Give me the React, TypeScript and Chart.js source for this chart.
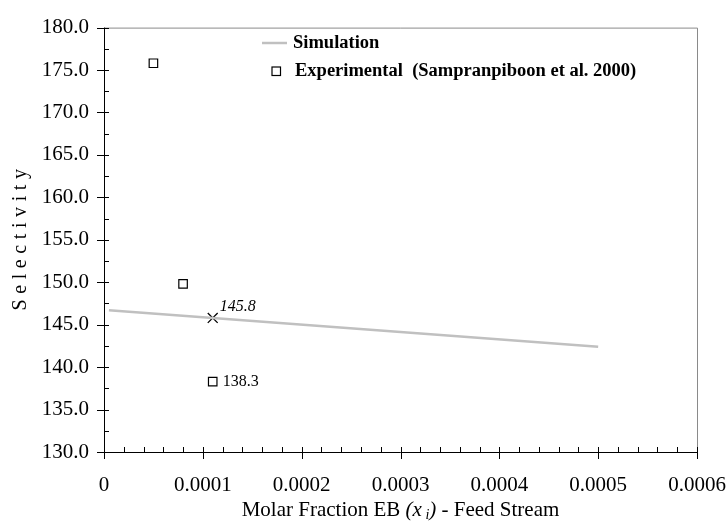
import React, { useEffect, useRef } from "react";
import { Chart, registerables } from "chart.js";

Chart.register(...registerables);

const simX = [0.000005, 0.0005];
const simY = [146.7, 142.4];
const expX = [0.00005, 0.00008, 0.00011];
const expY = [175.8, 149.8, 138.3];
const markX = [0.00011];
const markY = [145.8];
const xTicks = [0, 0.0001, 0.0002, 0.0003, 0.0004, 0.0005, 0.0006];
const yTicks = [130, 135, 140, 145, 150, 155, 160, 165, 170, 175, 180];
const seriesNames = ["Simulation", "Experimental  (Sampranpiboon et al. 2000)"];
const yTitle = "Selectivity";
const xTitleParts = [
  { t: "Molar Fraction EB ", style: "normal", sub: false },
  { t: "(x", style: "italic", sub: false },
  { t: " i", style: "italic", sub: true },
  { t: ")", style: "italic", sub: false },
  { t: " - Feed Stream", style: "normal", sub: false },
];

const FONT = "'Liberation Serif', 'Times New Roman', serif";

const framePlugin = {
  id: "frame",
  afterDraw(chart: any) {
    const { ctx, chartArea: a, scales } = chart;
    const xs = scales.x;
    const ys = scales.y;
    ctx.save();
    // top & right gray border
    ctx.strokeStyle = "#8a8a8a";
    ctx.lineWidth = 1;
    ctx.beginPath();
    ctx.moveTo(a.left, a.top + 0.5);
    ctx.lineTo(a.right + 0.5, a.top + 0.5);
    ctx.lineTo(a.right + 0.5, a.bottom);
    ctx.stroke();
    // left & bottom black axes
    ctx.strokeStyle = "#000";
    ctx.beginPath();
    ctx.moveTo(a.left + 0.5, a.top);
    ctx.lineTo(a.left + 0.5, a.bottom + 0.5);
    ctx.lineTo(a.right, a.bottom + 0.5);
    ctx.stroke();
    // y ticks
    ctx.beginPath();
    for (let v = 130; v <= 180.001; v += 2.5) {
      const y = Math.round(ys.getPixelForValue(v)) + 0.5;
      const major = Math.abs(v / 5 - Math.round(v / 5)) < 1e-6;
      ctx.moveTo(a.left - (major ? 7 : 0), y);
      ctx.lineTo(a.left + 5, y);
    }
    // x ticks
    for (let i = 0; i <= 30; i++) {
      const v = i * 0.00002;
      const x = Math.round(xs.getPixelForValue(v)) + 0.5;
      const major = i % 5 === 0;
      ctx.moveTo(x, a.bottom + (major ? 7 : 0));
      ctx.lineTo(x, a.bottom - 5);
    }
    ctx.stroke();

    // y title
    ctx.save();
    ctx.translate(21, (a.top + a.bottom) / 2);
    ctx.rotate(-Math.PI / 2);
    ctx.font = `20px ${FONT}`;
    ctx.fillStyle = "#000";
    (ctx as any).letterSpacing = "5.6px";
    ctx.textAlign = "center";
    ctx.textBaseline = "middle";
    ctx.fillText(yTitle, 2.8, 0);
    ctx.restore();

    // x title
    const base = 21;
    const fonts = xTitleParts.map(
      (p) => `${p.style === "italic" ? "italic " : ""}${p.sub ? Math.round(base * 0.65) : base}px ${FONT}`
    );
    let total = 0;
    xTitleParts.forEach((p, i) => {
      ctx.font = fonts[i];
      total += ctx.measureText(p.t).width;
    });
    let x = (a.left + a.right) / 2 - total / 2;
    const yb = 516;
    ctx.textAlign = "left";
    ctx.textBaseline = "alphabetic";
    ctx.fillStyle = "#000";
    xTitleParts.forEach((p, i) => {
      ctx.font = fonts[i];
      ctx.fillText(p.t, x, p.sub ? yb + 3 : yb);
      x += ctx.measureText(p.t).width;
    });

    // legend
    ctx.font = `bold 18.5px ${FONT}`;
    ctx.textBaseline = "middle";
    ctx.strokeStyle = "#c0c0c0";
    ctx.lineWidth = 2.5;
    ctx.beginPath();
    ctx.moveTo(262, 43);
    ctx.lineTo(287, 43);
    ctx.stroke();
    ctx.fillStyle = "#000";
    ctx.fillText(seriesNames[0], 293, 43);
    ctx.strokeStyle = "#000";
    ctx.lineWidth = 1.2;
    ctx.fillStyle = "#fff";
    ctx.fillRect(272, 67, 8.5, 8.5);
    ctx.strokeRect(272, 67, 8.5, 8.5);
    ctx.fillStyle = "#000";
    ctx.fillText(seriesNames[1], 295, 71);

    // annotations
    const mx = xs.getPixelForValue(markX[0]);
    const my = ys.getPixelForValue(markY[0]);
    ctx.font = `italic 16px ${FONT}`;
    ctx.textBaseline = "alphabetic";
    ctx.fillText(markY[0].toFixed(1), mx + 7, my - 7);
    const ex = xs.getPixelForValue(expX[2]);
    const ey = ys.getPixelForValue(expY[2]);
    ctx.font = `16px ${FONT}`;
    ctx.textBaseline = "middle";
    ctx.fillText(expY[2].toFixed(1), ex + 10, ey);
    ctx.restore();
  },
};

export default function App() {
  const ref = useRef<HTMLCanvasElement>(null);
  useEffect(() => {
    if (!ref.current) return;
    const chart = new Chart(ref.current, {
      type: "scatter",
      data: {
        datasets: [
          {
            label: seriesNames[0],
            data: simX.map((x, i) => ({ x, y: simY[i] })),
            showLine: true,
            borderColor: "#c0c0c0",
            borderWidth: 2.5,
            pointRadius: 0,
          },
          {
            label: seriesNames[1],
            data: expX.map((x, i) => ({ x, y: expY[i] })),
            pointStyle: "rect",
            pointRadius: 6,
            borderColor: "#000",
            backgroundColor: "#fff",
            borderWidth: 1.2,
          },
          {
            label: "Point",
            data: markX.map((x, i) => ({ x, y: markY[i] })),
            pointStyle: "crossRot",
            pointRadius: 7,
            borderColor: "#000",
            borderWidth: 1.3,
          },
        ],
      },
      options: {
        animation: false,
        responsive: true,
        maintainAspectRatio: false,
        layout: { padding: { top: 20, right: 30, left: 0, bottom: 0 } },
        plugins: { legend: { display: false }, tooltip: { enabled: false } },
        scales: {
          x: {
            type: "linear",
            min: 0,
            max: 0.0006,
            afterFit: (s: any) => {
              s.height = 71;
              s.paddingLeft = 0;
              s.paddingRight = 0;
            },
            afterBuildTicks: (s: any) => {
              s.ticks = xTicks.map((v) => ({ value: v }));
            },
            grid: { display: false, drawTicks: false },
            border: { display: false },
            ticks: {
              padding: 21,
              color: "#000",
              font: { family: FONT, size: 21 },
              callback: (v: any) => (v === 0 ? "0" : Number(v).toFixed(4)),
            },
          },
          y: {
            type: "linear",
            min: 130,
            max: 180,
            afterFit: (s: any) => {
              s.width = 104;
            },
            afterBuildTicks: (s: any) => {
              s.ticks = yTicks.map((v) => ({ value: v }));
            },
            grid: { display: false, drawTicks: false },
            border: { display: false },
            ticks: {
              padding: 15,
              color: "#000",
              font: { family: FONT, size: 21 },
              callback: (v: any) => Number(v).toFixed(1),
            },
          },
        },
      },
      plugins: [framePlugin],
    });
    return () => chart.destroy();
  }, []);
  return (
    <div style={{ position: "absolute", left: 0, top: 0, width: 727, height: 523, background: "#fff" }}>
      <canvas ref={ref} />
    </div>
  );
}
